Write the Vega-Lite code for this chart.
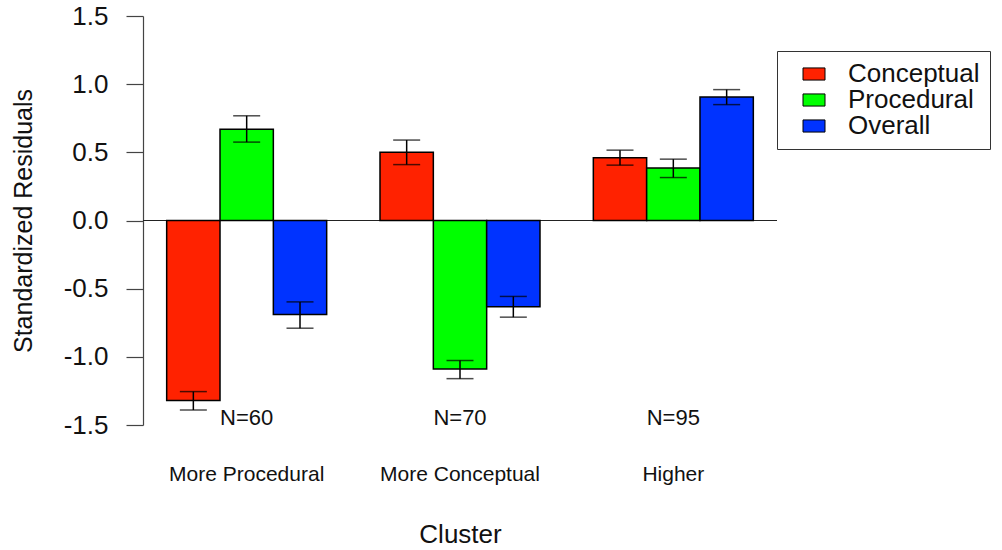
{
  "$schema": "https://vega.github.io/schema/vega-lite/v6.json",
  "autosize": {"type": "none"},
  "width": 634,
  "height": 409,
  "padding": {"left": 143, "top": 16, "right": 225, "bottom": 125},
  "background": "white",
  "config": {"view": {"stroke": null}, "font": "Liberation Sans"},
  "datasets": {
    "bars": [
      {"cluster": "More Procedural", "measure": "Conceptual", "value": -1.32, "lo": -1.39, "hi": -1.255},
      {"cluster": "More Procedural", "measure": "Procedural", "value": 0.67, "lo": 0.575, "hi": 0.768},
      {"cluster": "More Procedural", "measure": "Overall", "value": -0.69, "lo": -0.79, "hi": -0.597},
      {"cluster": "More Conceptual", "measure": "Conceptual", "value": 0.50, "lo": 0.41, "hi": 0.59},
      {"cluster": "More Conceptual", "measure": "Procedural", "value": -1.09, "lo": -1.16, "hi": -1.027},
      {"cluster": "More Conceptual", "measure": "Overall", "value": -0.633, "lo": -0.709, "hi": -0.557},
      {"cluster": "Higher", "measure": "Conceptual", "value": 0.46, "lo": 0.406, "hi": 0.516},
      {"cluster": "Higher", "measure": "Procedural", "value": 0.385, "lo": 0.315, "hi": 0.45},
      {"cluster": "Higher", "measure": "Overall", "value": 0.905, "lo": 0.85, "hi": 0.96}
    ],
    "counts": [
      {"cluster": "More Procedural", "label": "N=60"},
      {"cluster": "More Conceptual", "label": "N=70"},
      {"cluster": "Higher", "label": "N=95"}
    ]
  },
  "layer": [
    {
      "data": {"name": "bars"},
      "mark": {"type": "rule", "color": "#222", "strokeWidth": 1.2},
      "encoding": {"y": {"datum": 0, "type": "quantitative"}}
    },
    {
      "data": {"name": "bars"},
      "mark": {"type": "bar", "stroke": "black", "strokeWidth": 1.5},
      "encoding": {
        "x": {
          "field": "cluster", "type": "nominal",
          "sort": ["More Procedural", "More Conceptual", "Higher"],
          "scale": {"paddingInner": 0.25, "paddingOuter": 0.111},
          "axis": {
            "title": "Cluster", "labelAngle": 0, "domain": false, "ticks": false, "tickSize": 0,
            "labelFontSize": 21, "labelPadding": 38, "labelColor": "#111",
            "titleFontSize": 26, "titleFontWeight": "normal", "titlePadding": 37, "titleColor": "#111"
          }
        },
        "xOffset": {
          "field": "measure", "type": "nominal",
          "sort": ["Conceptual", "Procedural", "Overall"],
          "scale": {"paddingInner": 0, "paddingOuter": 0}
        },
        "y": {
          "field": "value", "type": "quantitative", "stack": null,
          "scale": {"domain": [-1.5, 1.5], "nice": false},
          "axis": {
            "title": "Standardized Residuals",
            "values": [-1.5, -1, -0.5, 0, 0.5, 1, 1.5],
            "labelExpr": "replace(format(datum.value, '.1f'), '\u2212', '-')",
            "grid": false, "domainColor": "#444", "tickColor": "#444", "domainWidth": 1.2, "tickWidth": 1.2,
            "tickSize": 17, "labelPadding": 18, "labelFontSize": 26, "labelColor": "#111",
            "titleFontSize": 25, "titleFontWeight": "normal", "titlePadding": 27, "titleColor": "#111"
          }
        },
        "color": {
          "field": "measure", "type": "nominal",
          "sort": ["Conceptual", "Procedural", "Overall"],
          "scale": {"domain": ["Conceptual", "Procedural", "Overall"], "range": ["#FF2200", "#00FF00", "#0033FF"]},
          "legend": {
            "title": null, "orient": "none", "legendX": 634, "legendY": 35, "direction": "vertical",
            "strokeColor": "#333", "fillColor": "white", "padding": 10,
            "symbolType": "M-1,-0.55H1V0.55H-1Z", "symbolSize": 484,
            "symbolStrokeColor": "black", "symbolStrokeWidth": 1, "symbolOffset": 14, "symbolOpacity": 1,
            "labelOffset": 21, "labelFontSize": 26, "labelColor": "#111", "rowPadding": -6
          }
        }
      }
    },
    {
      "data": {"name": "bars"},
      "mark": {"type": "rule", "color": "black", "strokeWidth": 1.5},
      "encoding": {
        "x": {"field": "cluster", "type": "nominal", "sort": ["More Procedural", "More Conceptual", "Higher"]},
        "xOffset": {"field": "measure", "type": "nominal", "sort": ["Conceptual", "Procedural", "Overall"]},
        "y": {"field": "lo", "type": "quantitative"},
        "y2": {"field": "hi"}
      }
    },
    {
      "data": {"name": "bars"},
      "mark": {"type": "tick", "color": "black", "thickness": 1.5, "size": 27, "orient": "horizontal"},
      "encoding": {
        "x": {"field": "cluster", "type": "nominal", "sort": ["More Procedural", "More Conceptual", "Higher"]},
        "xOffset": {"field": "measure", "type": "nominal", "sort": ["Conceptual", "Procedural", "Overall"]},
        "y": {"field": "lo", "type": "quantitative"}
      }
    },
    {
      "data": {"name": "bars"},
      "mark": {"type": "tick", "color": "black", "thickness": 1.5, "size": 27, "orient": "horizontal"},
      "encoding": {
        "x": {"field": "cluster", "type": "nominal", "sort": ["More Procedural", "More Conceptual", "Higher"]},
        "xOffset": {"field": "measure", "type": "nominal", "sort": ["Conceptual", "Procedural", "Overall"]},
        "y": {"field": "hi", "type": "quantitative"}
      }
    },
    {
      "data": {"name": "counts"},
      "mark": {"type": "text", "fontSize": 22, "baseline": "middle", "align": "center", "color": "#111"},
      "encoding": {
        "x": {"field": "cluster", "type": "nominal", "sort": ["More Procedural", "More Conceptual", "Higher"]},
        "y": {"datum": -1.445},
        "text": {"field": "label"}
      }
    }
  ]
}
